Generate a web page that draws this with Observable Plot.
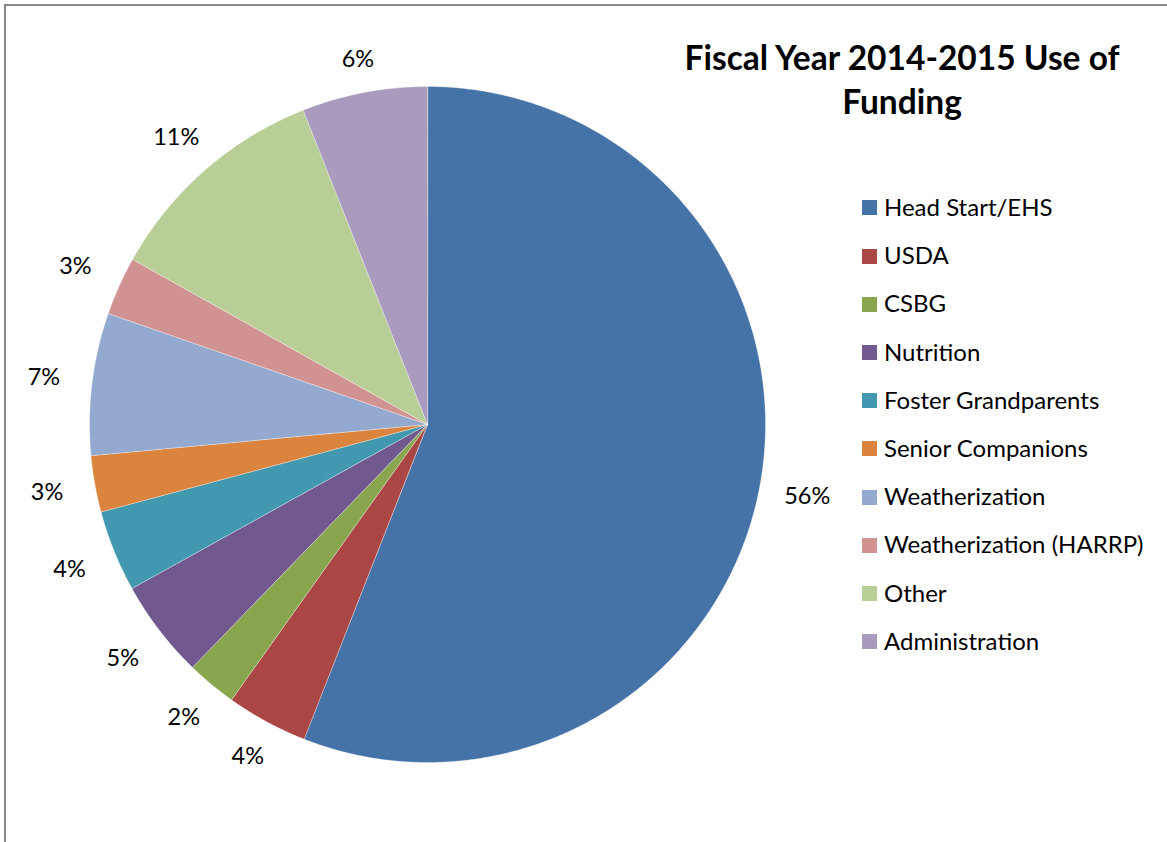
<!DOCTYPE html>
<html><head><meta charset="utf-8">
<script src="https://cdn.jsdelivr.net/npm/d3@7"></script>
<script src="https://cdn.jsdelivr.net/npm/@observablehq/plot@0.6"></script>
<style>
body{margin:0;background:#fff;overflow:hidden;font-family:Lato,"Open Sans",sans-serif;}
#wrap{position:relative;width:1167px;height:842px;background:#fff;}
#frame{position:absolute;left:4px;top:4px;width:1300px;height:1000px;border-left:2px solid #878787;border-top:2px solid #878787;box-sizing:border-box;}
#chart{position:absolute;left:0;top:0;}
#title{position:absolute;left:602px;top:35px;width:600px;text-align:center;font-weight:bold;font-size:33.5px;line-height:44px;color:#000;}
#legend{position:absolute;left:862px;top:0;}
.row{position:absolute;left:0;white-space:nowrap;font-size:24px;height:28px;line-height:28px;color:#000;}
.sw{display:inline-block;width:15px;height:15px;vertical-align:middle;margin-right:7px;position:relative;top:-2px;}
</style></head>
<body><div id="wrap"><div id="frame"></div><div id="chart"></div><div id="title"></div><div id="legend"></div></div>
<script>
const categories = ["Head Start/EHS","USDA","CSBG","Nutrition","Foster Grandparents","Senior Companions","Weatherization","Weatherization (HARRP)","Other","Administration"];
const values = [56.0, 3.9, 2.4, 4.7, 3.9, 2.7, 6.8, 2.8, 10.9, 6.0];
const colors = ["#4572A7","#AA4643","#89A54E","#71588F","#4198AF","#DB843D","#93A9CF","#D19392","#B9CD96","#A99BBD"];
const titleLines = ["Fiscal Year 2014-2015 Use of", "Funding"];

const data = categories.map((name, i) => ({name, value: values[i]}));
const total = d3.sum(values);
const arcs = d3.pie().sort(null).value(d => d.value)(data);

// polygon outline of each slice in unit coordinates (y up)
const pts = [];
arcs.forEach(a => {
  const name = a.data.name;
  pts.push({name, x: 0, y: 0});
  const n = Math.max(2, Math.ceil((a.endAngle - a.startAngle) / 0.005));
  for (let k = 0; k <= n; k++) {
    const t = a.startAngle + (a.endAngle - a.startAngle) * k / n;
    pts.push({name, x: Math.sin(t), y: Math.cos(t)});
  }
});

const R = 338;
const labels = arcs.map(a => {
  const m = (a.startAngle + a.endAngle) / 2;
  const s = Math.sin(m), c = Math.cos(m);
  const r = (R + 24 + Math.abs(s) * 24 + Math.abs(c) * 5) / R;
  return {x: s * r, y: c * r, text: Math.round(a.data.value / total * 100) + "%"};
});

const chart = Plot.plot({
  width: 1167, height: 842, margin: 0,
  x: {domain: [-1, 1], range: [89, 765], axis: null},
  y: {domain: [-1, 1], range: [762, 86], axis: null},
  color: {domain: categories, range: colors},
  style: {background: "transparent", fontFamily: "Lato, 'Open Sans', sans-serif"},
  marks: [
    Plot.line(pts, {x: "x", y: "y", z: "name", fill: "name", stroke: "#ffffff", strokeOpacity: 0.6, strokeWidth: 0.6, curve: "linear-closed"}),
    Plot.text(labels, {x: "x", y: "y", text: "text", fontSize: 23.5, fill: "#000"})
  ]
});
document.getElementById("chart").appendChild(chart);

document.getElementById("title").innerHTML = titleLines.join("<br>");

const leg = document.getElementById("legend");
categories.forEach((c, i) => {
  const row = document.createElement("div");
  row.className = "row";
  row.style.top = (207 + i * 48.2 - 14) + "px";
  const sw = document.createElement("span");
  sw.className = "sw"; sw.style.background = colors[i];
  row.appendChild(sw);
  row.appendChild(document.createTextNode(c));
  leg.appendChild(row);
});
</script></body></html>
